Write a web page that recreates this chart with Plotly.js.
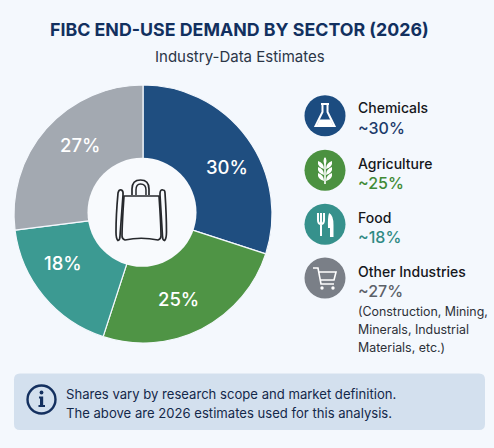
<!DOCTYPE html>
<html><head><meta charset="utf-8">
<script src="https://cdn.plot.ly/plotly-3.0.1.min.js"></script>
<style>html,body{margin:0;padding:0;background:#f4f8fd;overflow:hidden}#c{width:494px;height:448px}</style>
</head><body><div id="c"></div>
<script>
const categories = ["Chemicals","Agriculture","Food","Other Industries"];
const shares = [30,25,18,27];
const sliceColors = ["#1f4e80","#4f9445","#3c9a92","#a3a9b1"];
const legendValues = ["~30%","~25%","~18%","~27%"];
const valueColors = ["#1b3a6b","#3f8a35","#2f8a84","#5b6068"];
const iconColors = ["#1c4c80","#4b9140","#36918c","#7a7f87"];
const noteLines = ["(Construction, Mining,","Minerals, Industrial","Materials, etc.)"];
const W=494,H=448;
const X=x=>(x/W).toFixed(4), Y=y=>(1-y/H).toFixed(4);
function P(cmds){return cmds.map(c=>typeof c==='string'?c:X(c[0])+','+Y(c[1])).join(' ').replace(/([MLCQ]) /g,'$1').trim();}
function shape(path,o){return Object.assign({type:'path',xref:'paper',yref:'paper',path:P(path),layer:'above',line:{width:0}},o);}
function stroke(path,col,w){return shape(path,{line:{color:col,width:w},fillcolor:'rgba(0,0,0,0)'});}
function fill(path,col){return shape(path,{fillcolor:col});}
function circle(cx,cy,r,col,line,lw){return {type:'circle',xref:'paper',yref:'paper',x0:X(cx-r),x1:X(cx+r),y0:Y(cy+r),y1:Y(cy-r),fillcolor:col,layer:'above',line:line?{color:line,width:lw}:{width:0}};}
const shapes=[];
// info box
shapes.push(fill(['M',[20,373.5],'L',[479,373.5],'Q',[485,373.5],[485,379.5],'L',[485,424],'Q',[485,430],[479,430],'L',[20,430],'Q',[14,430],[14,424],'L',[14,379.5],'Q',[14,373.5],[20,373.5],'Z'],'#d3e0ee'));
shapes.push(circle(41.5,399.5,14,'rgba(0,0,0,0)','#14305f',2.4));
shapes.push(circle(41.5,392.5,1.9,'#14305f'));
shapes.push(fill(['M',[39,396.5],'L',[43.2,396.5],'L',[43.2,405],'L',[45,405],'L',[45,407],'L',[38.5,407],'L',[38.5,405],'L',[40,405],'L',[40,398.5],'L',[39,398.5],'Z'],'#14305f'));
// icon discs
[115.7,170.3,224.3,278].forEach((y,i)=>shapes.push(circle(325,y,20.5,iconColors[i])));
// flask
shapes.push(stroke(['M',[321,104],'L',[329,104],'M',[322.5,104],'L',[322.5,112],'L',[315.5,126],'L',[334.5,126],'L',[327.5,112],'L',[327.5,104]],'#ffffff',2));
shapes.push(fill(['M',[319.5,119.5],'L',[330.5,119.5],'L',[333,125],'L',[317,125],'Z'],'#ffffff'));
// wheat
shapes.push(stroke(['M',[325,158],'L',[325,184]],'#ffffff',1.6));
[[163],[169],[175]].forEach(([y])=>{
 shapes.push(fill(['M',[324,y+6],'Q',[317,y+4],[318,y-2],'Q',[324,y],[324,y+6],'Z'],'#ffffff'));
 shapes.push(fill(['M',[326,y+6],'Q',[333,y+4],[332,y-2],'Q',[326,y],[326,y+6],'Z'],'#ffffff'));
});
shapes.push(fill(['M',[325,157],'Q',[328,161],[325,165],'Q',[322,161],[325,157],'Z'],'#ffffff'));
// fork and knife
shapes.push(stroke(['M',[318,213],'L',[318,220],'Q',[318,224],[321,224],'Q',[324,224],[324,220],'L',[324,213],'M',[321,213],'L',[321,236]],'#ffffff',2));
shapes.push(fill(['M',[329,213],'Q',[333.5,215],[333.5,225],'L',[333.5,237],'L',[330,237],'L',[330,228],'L',[328,228],'Q',[327.5,218],[329,213],'Z'],'#ffffff'));
// cart
shapes.push(stroke(['M',[313,268],'L',[318,268],'L',[321,284],'L',[334,284],'M',[319,272],'L',[336,272],'L',[334,280],'L',[320,280]],'#ffffff',1.6));
shapes.push(circle(322,288,1.7,'#ffffff'));
shapes.push(circle(333,288,1.7,'#ffffff'));
// centre disc and bag icon
shapes.push(circle(142,212.3,54.5,'#f8fafd'));
const bag='#26282c';
shapes.push(stroke(['M',[124,196],'L',[159,196],'Q',[161,225],[161,236],'Q',[161,239],[158,240],'Q',[141,236.5],[125,240],'Q',[122,239],[122,236],'Q',[122,225],[124,196],'Z'],bag,1.7));
shapes.push(stroke(['M',[118,193],'Q',[119,189],[121.5,190],'Q',[123.5,191],[123,195],'L',[120,236],'Q',[120,240],[118,240.5],'Q',[116,239],[116,232],'Q',[116,215],[118,193],'Z'],bag,1.7));
shapes.push(stroke(['M',[160,193],'Q',[160.5,189],[163,190],'Q',[165,190],[165,193],'Q',[166.5,215],[166.5,232],'Q',[166.5,239],[164.5,240.5],'Q',[162.5,240],[162.5,236],'L',[160,195],'Z'],bag,1.7));
shapes.push(stroke(['M',[132,195],'L',[132,189],'Q',[132,180],[140.5,180],'Q',[149,180],[149,189],'L',[149,195]],bag,1.7));
shapes.push(stroke(['M',[136,195],'L',[136,190],'Q',[136,184],[140.5,184],'Q',[146,184],[146,190],'L',[146,195]],bag,1.5));

const font='Inter, Roboto, sans-serif';
const ann=(x,y,t,size,col,o,weight)=>Object.assign({xref:'paper',yref:'paper',x:x/W,y:1-y/H,text:t,showarrow:false,xanchor:'left',yanchor:'middle',align:'left',font:{family:font,size:size,color:col,weight:weight||400}},o||{});
const center={xanchor:'center',align:'center'};
const annotations=[
 ann(239.5,30,'FIBC END-USE DEMAND BY SECTOR (2026)',17.8,'#12305f',center,700),
 ann(239.5,57,'Industry-Data Estimates',15,'#2b3647',center),
 ann(64,393.5,'Shares vary by research scope and market definition.',13.1,'#14284a'),
 ann(64,413,'The above are 2026 estimates used for this analysis.',13.1,'#14284a')
];
const nameY=[107.5,163,217,271], valY=[127.5,183,237,291];
categories.forEach((c,i)=>{
 annotations.push(ann(356,nameY[i],c,14,'#15171c',null,500));
 annotations.push(ann(356,valY[i],legendValues[i],16,valueColors[i],null,500));
});
noteLines.forEach((t,i)=>annotations.push(ann(356,[311,329,347][i],t,12.4,'#2c3038')));
const pctPos=[[226.7,166.7],[178,299],[62.7,263],[80,145]];
shares.forEach((v,i)=>annotations.push(ann(pctPos[i][0],pctPos[i][1],v+'%',18.5,'#ffffff',center,500)));

Plotly.newPlot('c',[{
 type:'pie',labels:categories,values:shares,sort:false,direction:'clockwise',rotation:0,hole:0.38,
 marker:{colors:sliceColors,line:{color:'#f4f8fd',width:1.2}},
 textinfo:'none',
 domain:{x:[14/W,272/W],y:[1-343/H,1-85/H]},showlegend:false,hoverinfo:'label+percent'
}],{
 width:W,height:H,margin:{l:0,r:0,t:0,b:0},paper_bgcolor:'#f4f8fd',plot_bgcolor:'#f4f8fd',showlegend:false,
 shapes:shapes,annotations:annotations,font:{family:font}
},{displayModeBar:false});
</script></body></html>
